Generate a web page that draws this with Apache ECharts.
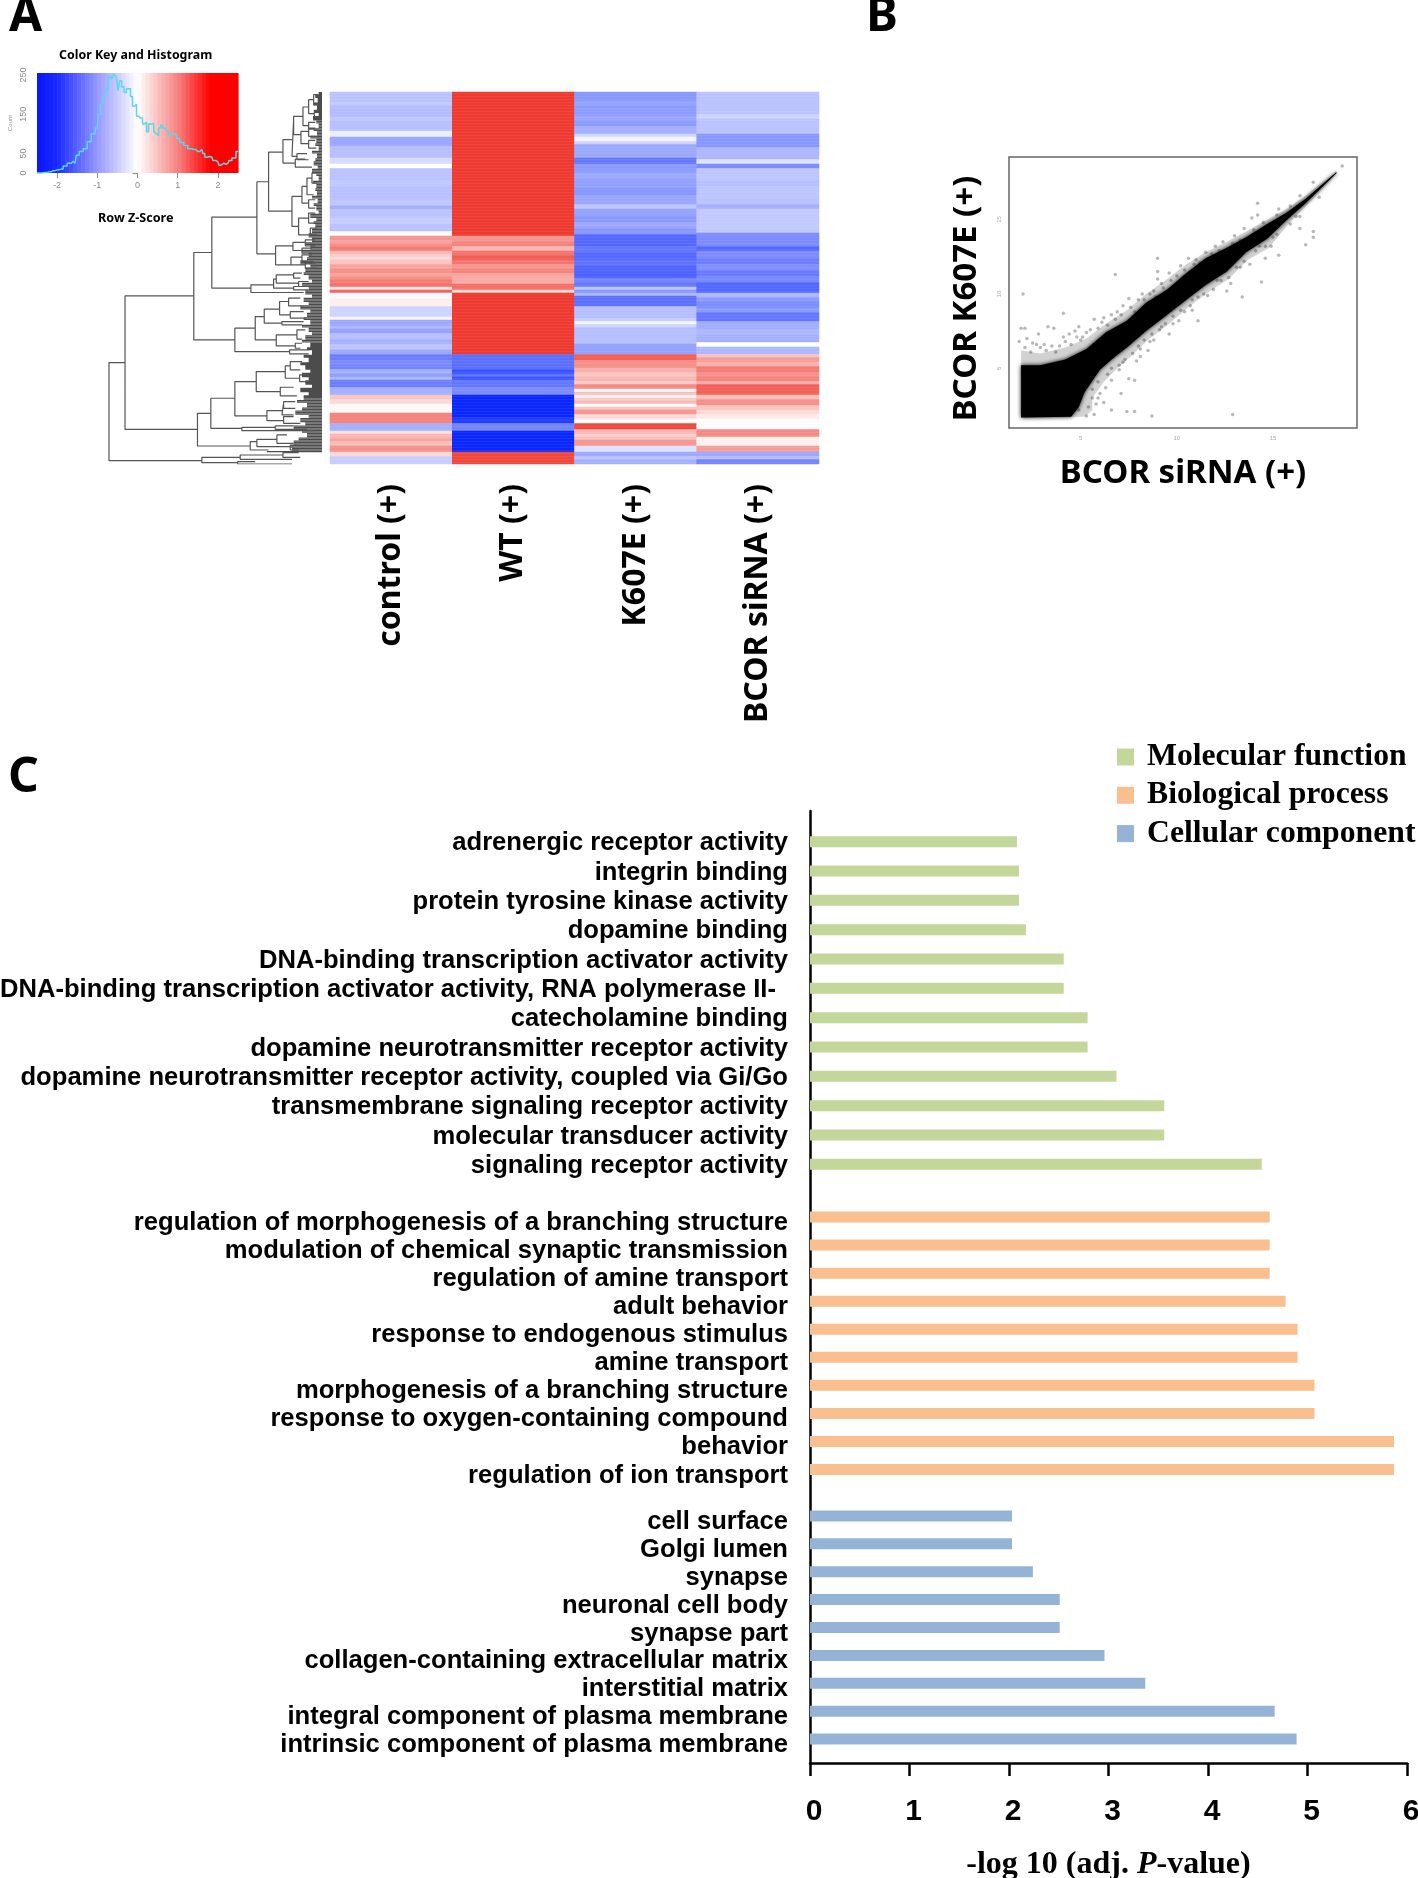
<!DOCTYPE html>
<html><head><meta charset="utf-8">
<style>html,body{margin:0;padding:0;background:#fff}#c{width:1418px;height:1878px}</style>
<script src="https://cdn.jsdelivr.net/npm/echarts@6/dist/echarts.min.js"></script>
</head><body><div id="c"></div>
<script>
// ---------- Panel A: heatmap, bands per column as [rows, z-score] ----------
const heatColumns = ['control (+)', 'WT (+)', 'K607E (+)', 'BCOR siRNA (+)'];
const controlBands = [[7,-.42],[2,-.36],[8,-.46],[2,-.38],[7,-.44],[4,-.12],[6,-.62],[8,-.45],[4,-.25],[3,0],[8,-.42],[4,-.38],[9,-.43],[4,-.40],[2,-.58],[6,-.42],[4,-.34],[5,-.42],[3,-.03],[3,.8],[2,.7],[2,.85],[3,1.0],[2,.55],[2,.4],[2,.3],[3,.45],[3,.7],[3,.85],[2,.7],[2,.85],[3,1.0],[2,1.1],[2,.2],[2,1.2],[4,-.05],[5,.12],[7,-.3],[2,.1],[4,-.6],[2,-.5],[3,-.65],[4,-.45],[3,-.55],[4,-.42],[3,-.6],[4,-.9],[3,-.8],[3,-.85],[3,-.55],[2,-.7],[2,-.5],[5,-.9],[5,-.55],[3,.45],[3,.3],[6,.05],[7,.95],[5,-.55],[2,.25],[3,.55],[2,.7],[3,.5],[4,.85],[3,.3],[5,-.35]];
const wtBands = [[96,1.5],[4,.8],[3,.95],[3,.55],[3,1.05],[3,1.25],[3,1.05],[3,.8],[3,.95],[2,.7],[5,.65],[4,1.1],[2,.3],[41,1.5],[10,-1.0],[3,-1.2],[2,-1.0],[2,-1.2],[5,-.95],[5,-.8],[15,-1.5],[4,-1.35],[5,-.85],[14,-1.5],[8,1.4]];
const k607eBands = [[6,-.72],[3,-.65],[7,-.7],[3,-.62],[4,-.7],[5,-.55],[2,-.3],[3,-.08],[2,-.3],[9,-.6],[4,-.95],[6,-.7],[4,-.6],[6,-.66],[5,-.72],[6,-.62],[3,-.4],[5,-.65],[4,-.72],[4,-.6],[4,-.72],[8,-1.05],[4,-.95],[5,-1.05],[4,-.98],[5,-1.08],[3,-1.1],[3,-.85],[3,-.95],[2,-.4],[2,-.75],[2,-.5],[7,-1.0],[8,-.45],[2,-.35],[2,-.05],[2,-.3],[11,-.45],[7,-.65],[4,1.2],[5,.85],[3,.6],[3,.45],[3,.55],[2,.4],[3,.9],[2,.05],[2,.5],[2,.1],[2,.4],[2,.55],[2,0],[2,.45],[3,.8],[3,.3],[3,-.02],[4,1.4],[3,.55],[2,.35],[2,.5],[4,.8],[4,-.2],[3,-.6],[2,-.4],[3,-.55]];
const sirnaBands = [[15,-.42],[3,-.3],[10,-.42],[9,-.72],[8,-.5],[3,-.2],[3,-.8],[8,-.4],[4,-.44],[8,-.4],[4,-.42],[3,-.55],[16,-.38],[9,-.8],[3,-1.05],[5,-.8],[4,-.9],[4,-.78],[4,-.92],[4,-.82],[7,-1.05],[3,-.5],[3,-.7],[4,-.8],[3,-.7],[6,-.95],[5,-.58],[4,-.5],[5,-.55],[3,0],[5,-.5],[2,.45],[3,.75],[3,.6],[4,1.0],[3,.85],[3,.95],[2,.6],[7,1.2],[3,.5],[4,.85],[3,.45],[3,.3],[3,.15],[7,-.02],[5,.9],[6,.1],[4,.75],[3,-.6],[2,-.45],[3,-.85]];
const heatRowCount = 248;

// ---------- Panel A: colour key histogram ----------
const histogramPoints = [[-2.5,0],[-2.3,1],[-2.2,3],[-2.1,6],[-2,8],[-1.9,10],[-1.8,18],[-1.7,25],[-1.6,30],[-1.55,25],[-1.5,45],[-1.4,55],[-1.3,62],[-1.2,80],[-1.1,100],[-1,115],[-.95,150],[-.9,175],[-.85,190],[-.8,205],[-.75,215],[-.7,245],[-.65,240],[-.6,250],[-.55,245],[-.5,240],[-.47,210],[-.42,235],[-.37,220],[-.3,205],[-.25,215],[-.2,215],[-.15,195],[-.1,170],[-.05,175],[0,145],[.05,140],[.1,140],[.15,125],[.2,130],[.25,105],[.3,125],[.4,126],[.42,105],[.45,100],[.5,95],[.55,115],[.6,122],[.65,115],[.7,110],[.75,105],[.8,95],[.85,100],[.9,100],[.95,95],[1,88],[1.1,78],[1.2,70],[1.3,62],[1.4,60],[1.5,55],[1.6,60],[1.65,50],[1.7,40],[1.75,42],[1.85,40],[1.9,32],[2,28],[2.05,20],[2.1,25],[2.2,22],[2.25,25],[2.3,32],[2.4,38],[2.5,55]];
const keyBreaks = [-2.5,-2.4,-2.3,-2.2,-2.1,-2,-1.9,-1.8,-1.7,-1.6,-1.5,-1.4,-1.3,-1.2,-1.1,-1,-.9,-.8,-.7,-.6,-.5,-.4,-.3,-.2,-.1,0,.1,.2,.3,.4,.5,.6,.7,.8,.9,1,1.1,1.2,1.3,1.4,1.5,1.6,1.7,1.8,1.9,2,2.1,2.2,2.3,2.4,2.5];
const keyStops = [[-2.5,[10,20,255]],[-2,[26,42,255]],[-1,[150,152,255]],[0,[255,255,255]],[1,[248,130,130]],[1.8,[255,0,0]],[2.5,[255,0,0]]];

// ---------- Panel A: dendrogram ----------
// [mergeHeight, upperBranch, lowerBranch, upperChildHeight, lowerChildHeight]
const dendroBrackets = [
[327,1088,1382,375,605],[375,888,1288,581,592],[581,758,1020,635,704],[635,652,865,770,752],[770,546,762,805,826],[805,457,634,848,875],
[848,420,490,875,885],[875,360,470,880,890],[880,350,405,908,902],[908,322,378,925,925],[925,300,342,940,942],[940,285,315,955,955],[942,332,352,955,955],[925,368,388,945,945],[902,395,432,925,925],[925,385,410,945,948],[925,422,445,945,948],[890,462,480,920,925],[885,478,502,915,935],
[875,590,680,905,895],[905,560,610,920,925],[920,535,585,935,940],[935,520,550,950,950],[925,600,625,945,945],[895,655,705,925,930],[925,640,670,945,945],[930,685,705,950,950],
[826,738,795,878,872],[878,728,752,915,905],[872,772,795,905,915],[915,720,738,945,945],[905,745,760,935,935],[905,765,785,935,940],[915,790,805,945,950],
[752,855,878,820,910],[820,838,865,828,880],[828,825,850,880,895],[880,820,835,905,900],[895,845,860,925,925],[880,860,870,925,925],
[704,985,1055,765,868],[765,950,1020,792,828],[792,928,970,838,845],[838,905,945,865,870],[865,895,918,900,905],[870,935,955,910,915],[845,965,975,910,905],[828,1005,1038,890,885],[890,990,1018,915,905],[885,1030,1045,905,900],[868,1050,1062,925,925],
[592,1240,1338,632,750],[632,1195,1285,704,725],[704,1145,1248,768,800],[768,1115,1175,855,840],[855,1098,1135,870,898],[870,1085,1110,905,900],[898,1125,1145,925,925],[840,1162,1188,880,890],[800,1232,1262,845,850],[845,1210,1245,850,880],[850,1205,1225,885,885],[850,1250,1270,880,900],[725,1282,1292,825,940],[825,1278,1288,880,920],[750,1325,1350,770,805],[770,1318,1340,830,870],[830,1305,1330,860,880],[870,1335,1350,890,895],
[605,1372,1388,720,712],[720,1365,1378,848,875],[848,1358,1372,895,900],[712,1385,1392,765,875]];
// leaf ends per row: [rows, height at which the leaf joins]
const leafJoins = [[2,955],[2,945],[3,952],[2,940],[3,950],[2,942],[2,955],[3,938],[2,948],[3,955],[2,940],[3,950],[2,930],[3,948],[2,945],[3,955],[2,935],[3,950],[2,945],[3,940],[2,952],[3,935],[2,948],[3,955],[2,938],[3,948],[2,945],[3,950],[2,935],[3,952],[2,940],[3,948],[2,955],[3,930],[2,948],[2,940],[3,945],[3,935],
[3,925],[3,935],[2,915],[3,930],[2,905],[3,925],[2,920],[3,900],[2,930],[3,915],[2,910],[3,925],[2,935],[3,905],[2,925],[3,915],[2,935],[3,910],[2,925],[3,900],[2,930],[3,920],[2,910],[3,930],[2,905],[3,925],[2,935],[3,915],[2,905],[3,930],[2,920],[3,935],[2,910],[3,925],[2,900],[3,915],[2,930],[3,905],[2,925],[3,915],[2,935],[3,900],[2,925],[3,910],[2,890],[3,920],[2,905],[3,885],[2,925],[3,900],[2,915],[3,880],[2,905],[3,920],[2,895],[3,880],[2,870],[2,875],[1,800]];

// ---------- Panel B: scatter ----------
const cloudCoreUpper = [[1.9,5.2],[2.9,5.2],[4.2,5.6],[5.3,6.3],[6.3,7.4],[7.4,8.2],[8.4,9.4],[9.5,10.3],[10.5,11.4],[11.5,12.4],[12.6,13.1],[13.6,13.8],[14.7,14.7],[15.7,15.45],[16.7,16.4],[18.3,18.2]];
const cloudCoreLower = [[1.9,1.7],[4.5,1.75],[4.9,2.4],[5.2,3.4],[6,4.9],[6.7,5.7],[7.4,6.4],[8.4,7.5],[9.5,8.6],[10.5,9.6],[11.5,10.6],[12.6,11.5],[13.6,12.8],[14.7,13.7],[15.7,14.95],[16.7,16.1],[18.3,18.1]];
const cloudHazeUpper = [[1.9,6.2],[2.9,6],[4.2,6.4],[5.3,7],[6.3,8],[7.4,8.9],[8.4,10],[9.5,11],[10.5,12],[11.5,12.8],[12.6,13.5],[13.6,14.2],[14.7,15],[15.7,15.7],[16.7,16.6],[18.3,18.3]];
const cloudHazeLower = [[1.9,1.7],[5.2,1.75],[5.6,2.2],[5.6,3],[6.2,4.1],[6.9,5],[7.6,5.8],[8.5,6.9],[9.6,8],[10.6,9.1],[11.6,10.1],[12.7,11],[13.7,12.3],[14.8,13.1],[15.8,14.7],[16.8,16],[18.3,18]];
const scatterOutliers = [[2,10],[4.1,8.7],[6.8,11.3],[9,12.4],[9,11.5],[9,11],[14.2,16.1],[14.2,15.3],[16.4,14.4],[17.1,14.2],[17.1,13.8],[16.7,13.3],[15.3,12.6],[14.6,12.4],[14.4,10.8],[13.4,9.8],[12.6,10.2],[12.9,1.9],[8.7,1.8],[7.4,2.1],[7.8,2.1],[6.6,2.2],[5.7,1.9],[5.3,1.8],[7.8,4.2],[7.5,4.3],[7.1,3.3],[6,3.3],[6.2,2.7],[8.1,5.8],[7.9,5.5],[8.5,6.2],[11.1,8.2],[10.8,8.9],[10.1,8.2],[9.6,7.3],[1.9,7.7],[2.1,7.7],[1.8,6.8],[2.2,7],[2.8,7.3],[3.3,7.8],[3.6,7.7],[4.2,6.8],[3.7,6.1],[2.9,6.4],[4.8,7.1],[5.3,7.4],[5.7,8.3],[4.9,7.8],[6.6,8.6],[7.5,9.7],[8.2,10],[8.8,10.2],[9.6,11.4],[10.6,12.4],[11.5,12.8],[12.4,13.5],[13.5,14.4],[13.9,15.1],[15.3,15.7],[16.4,16.6],[17.1,17.5],[18.6,18.6],[17.4,16.5],[16.4,15.2],[15,13.8],[14.3,13.2],[13.3,11.8],[12.1,10.9],[10.8,9.6],[9.8,8],[8.8,6.9],[8.1,6.3],[7,4.9],[6.3,3.7],[5.8,2.6],[2.5,6.7],[3.1,6.6],[4.4,7.3],[5,6.9],[6.1,8.1],[6.9,8.8],[7.2,9.2],[8,9.6],[9.2,10.7],[10.2,11.9],[11,12.3],[12,13.2],[13,13.9],[6.6,5],[7.2,5.4],[8.6,6.8],[9.2,7.8],[10.4,8.8],[11.6,9.9],[12.8,10.7],[13.8,12],[14.9,13.2],[5.6,3.6],[5.9,3],[4.9,2.2],
[2.1,6.4],[2.4,6.1],[2.7,6.6],[3.2,6.2],[3.5,6.5],[3.9,6.5],[4.1,7.1],[4.5,6.6],[4.7,7.5],[5.1,7.1],[5.5,7.6],[5.9,7.7],[6.2,8.4],[6.4,7.9],[6.8,8.3],[7.1,8.6],[7.6,9.1],[7.8,8.8],[8.3,9.6],[8.6,10],[8.9,9.8],[9.3,10.4],[9.7,10.9],[10,11.2],[10.4,11.6],[10.9,12],[11.2,12.1],[11.8,12.7],[12.2,12.9],[12.9,13.4],[13.3,13.6],[14,14.3],[14.5,14.8],[15.2,15.3],[15.9,15.9],
[5.6,3],[5.4,2.4],[5.9,4.1],[6.4,4.6],[6.6,4.2],[7,5.2],[7.3,5.6],[7.7,6],[8,6.5],[8.3,6.9],[8.7,7.3],[9.1,7.6],[9.4,8],[9.8,8.5],[10.2,8.9],[10.7,9.2],[11.1,9.8],[11.4,10],[11.9,10.3],[12.3,10.9],[12.7,11.1],[13.1,11.8],[13.5,12.2],[14.1,12.9],[14.6,13.2],[15.2,14],[15.9,14.7],[16.2,15.2]];
const scatterTicks = [5, 10, 15];

// ---------- Panel C: enrichment ----------
const mfTerms = ['adrenergic receptor activity','integrin binding','protein tyrosine kinase activity','dopamine binding','DNA-binding transcription activator activity','DNA-binding transcription activator activity, RNA polymerase II-','catecholamine binding','dopamine neurotransmitter receptor activity','dopamine neurotransmitter receptor activity, coupled via Gi/Go','transmembrane signaling receptor activity','molecular transducer activity','signaling receptor activity'];
const mfValues = [2.08,2.10,2.10,2.17,2.55,2.55,2.79,2.79,3.08,3.56,3.56,4.54];
const bpTerms = ['regulation of morphogenesis of a branching structure','modulation of chemical synaptic transmission','regulation of amine transport','adult behavior','response to endogenous stimulus','amine transport','morphogenesis of a branching structure','response to oxygen-containing compound','behavior','regulation of ion transport'];
const bpValues = [4.62,4.62,4.62,4.78,4.90,4.90,5.07,5.07,5.87,5.87];
const ccTerms = ['cell surface','Golgi lumen','synapse','neuronal cell body','synapse part','collagen-containing extracellular matrix','interstitial matrix','integral component of plasma membrane','intrinsic component of plasma membrane'];
const ccValues = [2.03,2.03,2.24,2.51,2.51,2.96,3.37,4.67,4.89];
const groupNames = ['Molecular function','Biological process','Cellular component'];
const groupColors = ['#c4d79b','#fabf8f','#95b3d7'];
const xTicks = [0,1,2,3,4,5,6];

// ---------- build ----------
const SANS = '"Noto Sans", sans-serif', ARIAL = '"Liberation Sans", Arial, sans-serif', SERIF = '"Liberation Serif", serif';
const heatData = [];
[controlBands, wtBands, k607eBands, sirnaBands].forEach((bands, col) => {
  let row = 0;
  bands.forEach(([n, v]) => { for (let i = 0; i < n; i++) heatData.push([col, row++, v]); });
});
const rowNames = Array.from({length: heatRowCount}, (_, i) => String(i));
function keyColor(z) {
  for (let i = 1; i < keyStops.length; i++) {
    if (z <= keyStops[i][0]) {
      const [a, ca] = keyStops[i-1], [b, cb] = keyStops[i], t = (z-a)/(b-a);
      return 'rgb(' + ca.map((c, k) => Math.round(c+(cb[k]-c)*t)).join(',') + ')';
    }
  }
  return 'rgb(255,0,0)';
}
const keyData = keyBreaks.slice(0, -1).map((z, i) => [z, keyBreaks[i+1]]);
const bracketPath = [];
dendroBrackets.forEach(([h, a, b, ha, hb]) => { bracketPath.push([ha,a],[h,a],[h,b],[hb,b],null); });
const leafPath = [];
let leafRow = 0;
leafJoins.forEach(([n, h]) => { for (let i = 0; i < n; i++) { const y = 277 + 4.5*(leafRow+0.5); leafPath.push([h,y],[965,y],null); leafRow++; } });
function polySeries(up, low, color, z, blur) {
  const pts = up.concat(low.slice().reverse());
  return {type:'custom', xAxisIndex:3, yAxisIndex:3, z, silent:true, data:[0], clip:true,
    renderItem:(p, api) => ({type:'polygon', shape:{points:pts.map(q => api.coord(q))},
      style:{fill:color, shadowBlur:blur, shadowColor:color}})};
}
const gridBox = (left, top, width, height, extra) => Object.assign({left, top, width, height, outerBoundsMode:'none'}, extra || {});
function termAxis(idx, names, drop) {
  return {type:'category', gridIndex:idx, inverse:true, data:names, axisLine:{show:false}, axisTick:{show:false},
    axisLabel:{interval:0, margin:22, formatter:v => (/II-$/.test(v) ? '{t|'+v+'}{p|}' : '{t|'+v+'}'),
      rich:{t:{fontFamily:ARIAL, fontWeight:'bold', fontSize:25.6, color:'#000', padding:[drop,0,0,0]}, p:{width:12}}}};
}
function hiddenX(idx) { return {type:'value', gridIndex:idx, min:0, max:6, show:false}; }
function barSeries(i, idx, values) {
  return {type:'bar', name:groupNames[i], xAxisIndex:idx, yAxisIndex:idx, data:values, barWidth:11, silent:true,
    itemStyle:{color:groupColors[i]}};
}
const letter = {fontFamily:SANS, fontWeight:'bold', fontSize:48, color:'#000'};
const option = {
  animation:false, backgroundColor:'#fff',
  title:[
    {text:'A', left:4, top:-12, textStyle:letter},
    {text:'B', left:861, top:-12, textStyle:letter},
    {text:'C', left:3, top:749, textStyle:letter},
    {text:'Color Key and Histogram', left:54, top:44.5, textStyle:{fontFamily:SANS, fontWeight:'bold', fontSize:12.4, color:'#000'}},
    {text:'Row Z-Score', left:93, top:207, textStyle:{fontFamily:SANS, fontWeight:'bold', fontSize:12.6, color:'#000'}}
  ],
  legend:{orient:'vertical', left:1112, top:736, itemWidth:17, itemHeight:17, itemGap:6.3, selectedMode:false, icon:'rect',
    data:groupNames, textStyle:{fontFamily:SERIF, fontWeight:'bold', fontSize:31.7, color:'#000', padding:[0,0,0,8]}},
  visualMap:{show:false, seriesIndex:4, min:-1.5, max:1.5, inRange:{color:['#0a28ff','#ffffff','#ee3b30']}},
  grid:[
    gridBox(37, 73, 201, 100),
    gridBox(109, 92, 213, 372),
    gridBox(330, 92, 489, 372),
    gridBox(1009, 157, 348, 271, {show:true, borderColor:'#666', borderWidth:1.5, backgroundColor:'#fff'}),
    gridBox(810, 811, 597, 952),
    gridBox(810, 827, 597, 352), gridBox(810, 1203, 597, 280.5), gridBox(810, 1502, 597, 251)
  ],
  xAxis:[
    {type:'value', gridIndex:0, min:-2.5, max:2.5, interval:1, splitLine:{show:false},
      axisLine:{show:false}, axisTick:{length:5, lineStyle:{color:'#888'}, customValues:[-2,-1,0,1,2]},
      axisLabel:{color:'#888', fontFamily:ARIAL, fontSize:9, margin:8, customValues:[-2,-1,0,1,2]}},
    {type:'value', gridIndex:1, min:327, max:965, show:false},
    {type:'category', gridIndex:2, data:heatColumns, axisLine:{show:false}, axisTick:{show:false},
      axisLabel:{rotate:90, interval:0, margin:20, fontFamily:SANS, fontWeight:'bold', fontSize:32, color:'#000'}},
    {type:'value', gridIndex:3, min:1.27, max:19.37, splitLine:{show:false}, axisLine:{show:false},
      axisTick:{show:false}, axisLabel:{color:'#aaa', fontSize:6, margin:7, customValues:scatterTicks},
      name:'BCOR siRNA (+)', nameLocation:'middle', nameGap:29,
      nameTextStyle:{fontFamily:SANS, fontWeight:'bold', fontSize:33, color:'#000'}},
    {type:'value', gridIndex:4, min:0, max:6, interval:1, splitLine:{show:false},
      axisLine:{lineStyle:{color:'#000', width:2.5}}, axisTick:{length:13, lineStyle:{color:'#000', width:2.5}},
      axisLabel:{margin:34, padding:[0,0,0,8], fontFamily:ARIAL, fontWeight:'bold', fontSize:30, color:'#000', customValues:xTicks},
      name:'{a|-log 10 (adj. }{b|P}{a|-value)}', nameLocation:'middle', nameGap:86,
      nameTextStyle:{rich:{a:{fontFamily:SERIF, fontWeight:'bold', fontSize:32, color:'#000'},
                           b:{fontFamily:SERIF, fontWeight:'bold', fontStyle:'italic', fontSize:32, color:'#000'}}}},
    hiddenX(5), hiddenX(6), hiddenX(7)
  ],
  yAxis:[
    {type:'value', gridIndex:0, min:0, max:255, splitLine:{show:false},
      axisLine:{show:false}, axisTick:{length:5, lineStyle:{color:'#888'}, customValues:[0,50,100,150,200,250]},
      axisLabel:{rotate:90, color:'#888', fontFamily:ARIAL, fontSize:9, margin:9, customValues:[0,50,150,250]},
      name:'Count', nameLocation:'middle', nameGap:24, nameTextStyle:{color:'#999', fontSize:6, fontFamily:ARIAL}},
    {type:'value', gridIndex:1, min:277, max:1392, inverse:true, show:false},
    {type:'category', gridIndex:2, data:rowNames, inverse:true, show:false},
    {type:'value', gridIndex:3, min:0.99, max:19.2, splitLine:{show:false}, axisLine:{show:false},
      axisTick:{show:false}, axisLabel:{color:'#aaa', fontSize:6, margin:7, rotate:90, customValues:scatterTicks},
      name:'BCOR K607E (+)', nameLocation:'middle', nameGap:26,
      nameTextStyle:{fontFamily:SANS, fontWeight:'bold', fontSize:33, color:'#000', padding:[0,12,0,0]}},
    {type:'value', gridIndex:4, min:0, max:1, splitLine:{show:false}, axisTick:{show:false}, axisLabel:{show:false},
      axisLine:{show:true, lineStyle:{color:'#000', width:2.5}}},
    termAxis(5, mfTerms, 3), termAxis(6, bpTerms, 12), termAxis(7, ccTerms, 12)
  ],
  series:[
    {type:'custom', xAxisIndex:0, yAxisIndex:0, silent:true, data:keyData,
      renderItem:(p, api) => {
        const a = api.coord([api.value(0), 0]), b = api.coord([api.value(1), 255]);
        return {type:'rect', shape:{x:a[0], y:b[1], width:b[0]-a[0]+0.6, height:a[1]-b[1]},
          style:{fill:keyColor((api.value(0)+api.value(1))/2)}};
      }},
    {type:'line', xAxisIndex:0, yAxisIndex:0, data:histogramPoints, step:'middle', showSymbol:false, silent:true,
      lineStyle:{color:'#58d8ea', width:1.5}},
    {type:'line', xAxisIndex:1, yAxisIndex:1, data:leafPath, showSymbol:false, silent:true, connectNulls:false,
      lineStyle:{color:'#4c4c4c', width:1.3}},
    {type:'line', xAxisIndex:1, yAxisIndex:1, data:bracketPath, showSymbol:false, silent:true, connectNulls:false,
      lineStyle:{color:'#555', width:1.2}},
    {type:'heatmap', xAxisIndex:2, yAxisIndex:2, data:heatData, silent:true, progressive:0},
    polySeries(cloudHazeUpper, cloudHazeLower, 'rgba(0,0,0,0.16)', 2, 8),
    polySeries(cloudCoreUpper, cloudCoreLower, '#000', 3, 4),
    {type:'scatter', xAxisIndex:3, yAxisIndex:3, data:scatterOutliers, symbolSize:3.5, silent:true, z:4,
      itemStyle:{color:'rgba(0,0,0,0.35)'}},
    barSeries(0, 5, mfValues), barSeries(1, 6, bpValues), barSeries(2, 7, ccValues)
  ]
};
const chart = echarts.init(document.getElementById('c'), null, {renderer:'canvas', width:1418, height:1878});
chart.setOption(option);
</script></body></html>
